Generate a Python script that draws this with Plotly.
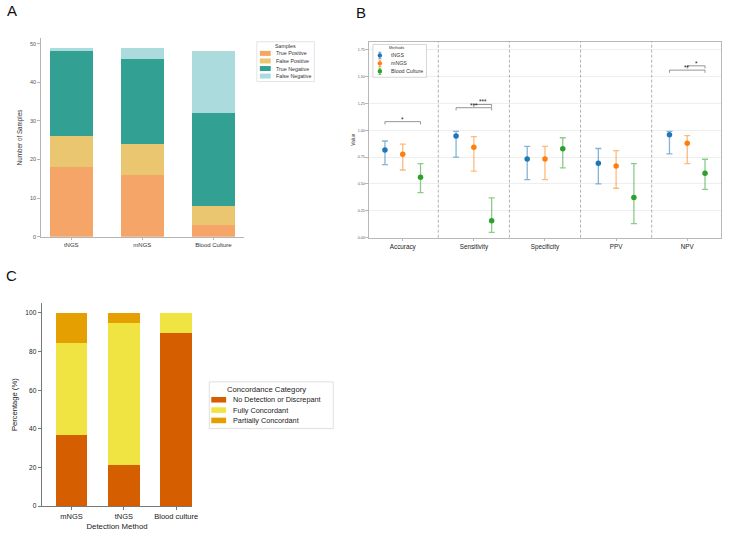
import plotly.graph_objects as go

W, H = 730, 535
FONT = "Liberation Sans, Arial, sans-serif"

# ---------------- Panel A data ----------------
a_methods = ["tNGS", "mNGS", "Blood Culture"]
a_true_pos = [18, 16, 3]
a_false_pos = [8, 8, 5]
a_true_neg = [22, 22, 24]
a_false_neg = [1, 3, 16]
a_labels = ["True Positive", "False Positive", "True Negative", "False Negative"]
a_colors = ["#F4A261", "#E9C46A", "#2A9D8F", "#A8DADC"]
a_yticks = [0, 10, 20, 30, 40, 50]

# ---------------- Panel B data ----------------
b_metrics = ["Accuracy", "Sensitivity", "Specificity", "PPV", "NPV"]
b_methods = ["tNGS", "mNGS", "Blood Culture"]
b_tngs = [0.816, 0.947, 0.733, 0.692, 0.957]
b_tngs_lo = [0.68, 0.75, 0.54, 0.50, 0.78]
b_tngs_hi = [0.90, 0.99, 0.85, 0.83, 0.99]
b_mngs = [0.776, 0.842, 0.733, 0.667, 0.880]
b_mngs_lo = [0.63, 0.62, 0.54, 0.46, 0.69]
b_mngs_hi = [0.87, 0.94, 0.85, 0.81, 0.95]
b_bc = [0.5625, 0.158, 0.828, 0.375, 0.600]
b_bc_lo = [0.42, 0.05, 0.65, 0.13, 0.45]
b_bc_hi = [0.69, 0.37, 0.93, 0.69, 0.73]
b_colors = ["#1f77b4", "#ff7f0e", "#2ca02c"]
b_yticks = [0.0, 0.25, 0.5, 0.75, 1.0, 1.25, 1.5, 1.75]
# significance brackets
b_sig_metric = ["Accuracy", "Sensitivity", "Sensitivity", "NPV", "NPV"]
b_sig_from = ["tNGS", "tNGS", "mNGS", "tNGS", "mNGS"]
b_sig_to = ["Blood Culture", "Blood Culture", "Blood Culture", "Blood Culture", "Blood Culture"]
b_sig_height = [1.08, 1.21, 1.24, 1.56, 1.60]
b_sig_label = ["*", "***", "***", "**", "*"]

# ---------------- Panel C data ----------------
c_methods = ["mNGS", "tNGS", "Blood culture"]
c_no_detect = [36.8, 21.1, 89.5]
c_full = [47.4, 73.7, 10.5]
c_partial = [15.8, 5.2, 0.0]
c_labels = ["No Detection or Discrepant", "Fully Concordant", "Partially Concordant"]
c_colors = ["#D55E00", "#F0E442", "#E69F00"]
c_yticks = [0, 20, 40, 60, 80, 100]


def px(x, y):
    return x / W, 1 - y / H


def dom_x(a, b):
    return [a / W, b / W]


def dom_y(top, bottom):
    return [1 - bottom / H, 1 - top / H]


def rgba(hexc, a):
    hexc = hexc.lstrip("#")
    r, g, b = int(hexc[0:2], 16), int(hexc[2:4], 16), int(hexc[4:6], 16)
    return f"rgba({r},{g},{b},{a})"


fig = go.Figure()
shapes = []
annos = []

# ================= Panel A =================
a_series = [a_true_pos, a_false_pos, a_true_neg, a_false_neg]
for lab, col, vals in zip(a_labels, a_colors, a_series):
    fig.add_trace(go.Bar(
        x=a_methods, y=vals, name=lab, marker=dict(color=col, line=dict(width=0)),
        opacity=0.96, width=0.6, xaxis="x", yaxis="y", showlegend=False,
    ))

# ================= Panel B =================
offsets = {"tNGS": -0.25, "mNGS": 0.0, "Blood Culture": 0.25}
b_vals = [b_tngs, b_mngs, b_bc]
b_los = [b_tngs_lo, b_mngs_lo, b_bc_lo]
b_his = [b_tngs_hi, b_mngs_hi, b_bc_hi]
for m, col, v, lo, hi in zip(b_methods, b_colors, b_vals, b_los, b_his):
    xs = [i + offsets[m] for i in range(len(b_metrics))]
    fig.add_trace(go.Scatter(
        x=xs, y=v, mode="markers", name=m,
        marker=dict(color=col, size=5.5),
        error_y=dict(type="data", symmetric=False,
                     array=[h - c for h, c in zip(hi, v)],
                     arrayminus=[c - l for c, l in zip(v, lo)],
                     color=rgba(col, 0.55), thickness=1.3, width=3),
        xaxis="x2", yaxis="y2", showlegend=False,
    ))

# separators
for i in range(len(b_metrics) - 1):
    shapes.append(dict(type="line", xref="x2", yref="y2 domain", x0=i + 0.5, x1=i + 0.5,
                       y0=0, y1=1, line=dict(color="#a8a8a8", width=0.9, dash="3px,2px")))

# significance brackets
for met, f, t, h, lab in zip(b_sig_metric, b_sig_from, b_sig_to, b_sig_height, b_sig_label):
    idx = b_metrics.index(met)
    x0 = idx + offsets[f]
    x1 = idx + offsets[t]
    d = 0.025
    shapes.append(dict(type="path", xref="x2", yref="y2",
                       path=f"M {x0},{h - d} L {x0},{h} L {x1},{h} L {x1},{h - d}",
                       line=dict(color="#8a8a8a", width=0.9)))
    annos.append(dict(xref="x2", yref="y2", x=(x0 + x1) / 2, y=h, text=lab, showarrow=False,
                      yanchor="bottom", yshift=-3, font=dict(size=6.5, color="#222", family=FONT)))

# ================= Panel C =================
c_series = [c_no_detect, c_full, c_partial]
for lab, col, vals in zip(c_labels, c_colors, c_series):
    fig.add_trace(go.Bar(
        x=c_methods, y=vals, name=lab, marker=dict(color=col, line=dict(width=0)),
        width=0.6, xaxis="x3", yaxis="y3", showlegend=False,
    ))

# ================= Manual legends =================
# Legend A
x0, y0, x1, y1 = px(259, 42)[0], px(259, 42)[1], px(317, 82)[0], px(317, 82)[1]
shapes.append(dict(type="rect", xref="paper", yref="paper", x0=x0, y0=y1, x1=x1, y1=y0,
                   line=dict(color="#dddddd", width=0.8), fillcolor="white"))
tx, ty = px(288, 46.5)
annos.append(dict(xref="paper", yref="paper", x=tx, y=ty, text="Samples", showarrow=False,
                  xanchor="center", yanchor="middle", font=dict(size=5.3, color="#333", family=FONT)))
for i, (lab, col) in enumerate(zip(a_labels, a_colors)):
    yc = 53.7 + i * 7.6
    sx0, sy0 = px(262, yc - 2.5)
    sx1, sy1 = px(273, yc + 2.5)
    shapes.append(dict(type="rect", xref="paper", yref="paper", x0=sx0, y0=sy1, x1=sx1, y1=sy0,
                       line=dict(width=0), fillcolor=col, opacity=0.96))
    lx, ly = px(276, yc)
    annos.append(dict(xref="paper", yref="paper", x=lx, y=ly, text=lab, showarrow=False,
                      xanchor="left", yanchor="middle", font=dict(size=5.3, color="#333", family=FONT)))

# Legend B
bx0, by0 = px(376, 44.7)
bx1, by1 = px(430, 77.7)
shapes.append(dict(type="rect", xref="paper", yref="paper", x0=bx0, y0=by1, x1=bx1, y1=by0,
                   line=dict(color="#cccccc", width=0.8), fillcolor="white"))
tx, ty = px(400, 48)
annos.append(dict(xref="paper", yref="paper", x=tx, y=ty, text="Methods", showarrow=False,
                  xanchor="center", yanchor="middle", font=dict(size=4, color="#333", family=FONT)))
for i, (lab, col) in enumerate(zip(b_methods, b_colors)):
    yc = 55.7 + i * 8.0
    mx = 383
    ex, ey0 = px(mx, yc - 3.2)
    _, ey1 = px(mx, yc + 3.2)
    shapes.append(dict(type="line", xref="paper", yref="paper", x0=ex, x1=ex, y0=ey0, y1=ey1,
                       line=dict(color=rgba(col, 0.6), width=1.2)))
    for yy in (yc - 3.2, yc + 3.2):
        cx0, cy = px(mx - 1.5, yy)
        cx1, _ = px(mx + 1.5, yy)
        shapes.append(dict(type="line", xref="paper", yref="paper", x0=cx0, x1=cx1, y0=cy, y1=cy,
                           line=dict(color=rgba(col, 0.6), width=1)))
    ccx0, ccy0 = px(mx - 2.2, yc - 2.2)
    ccx1, ccy1 = px(mx + 2.2, yc + 2.2)
    shapes.append(dict(type="circle", xref="paper", yref="paper", x0=ccx0, x1=ccx1, y0=ccy1, y1=ccy0,
                       line=dict(width=0), fillcolor=col))
    lx, ly = px(392, yc)
    annos.append(dict(xref="paper", yref="paper", x=lx, y=ly, text=lab, showarrow=False,
                      xanchor="left", yanchor="middle", font=dict(size=5.3, color="#333", family=FONT)))

# Legend C
cx0, cy0 = px(211, 384)
cx1, cy1 = px(336, 431)
shapes.append(dict(type="rect", xref="paper", yref="paper", x0=cx0, y0=cy1, x1=cx1, y1=cy0,
                   line=dict(color="#d8d8d8", width=0.8), fillcolor="white"))
tx, ty = px(269, 391.5)
annos.append(dict(xref="paper", yref="paper", x=tx, y=ty, text="Concordance Category", showarrow=False,
                  xanchor="center", yanchor="middle", font=dict(size=7.7, color="#222", family=FONT)))
for i, (lab, col) in enumerate(zip(c_labels, c_colors)):
    yc = 402 + i * 10.4
    sx0, sy0 = px(213, yc - 2.8)
    sx1, sy1 = px(228, yc + 2.8)
    shapes.append(dict(type="rect", xref="paper", yref="paper", x0=sx0, y0=sy1, x1=sx1, y1=sy0,
                       line=dict(width=0), fillcolor=col))
    lx, ly = px(233, yc)
    annos.append(dict(xref="paper", yref="paper", x=lx, y=ly, text=lab, showarrow=False,
                      xanchor="left", yanchor="middle", font=dict(size=7.3, color="#222", family=FONT)))

# Panel labels
for lab, (x, y) in zip(["A", "B", "C"], [(12, 11), (364, 13), (12, 277)]):
    lx, ly = px(x, y)
    annos.append(dict(xref="paper", yref="paper", x=lx, y=ly, text=lab, showarrow=False,
                      xanchor="center", yanchor="middle", font=dict(size=15, color="#111", family=FONT)))

axis_common = dict(showgrid=False, zeroline=False, ticks="outside", showline=True)

fig.update_layout(
    width=W, height=H, margin=dict(l=0, r=0, t=0, b=0),
    paper_bgcolor="white", plot_bgcolor="white",
    barmode="stack", showlegend=False,
    font=dict(family=FONT, color="#333"),
    # Panel A
    xaxis=dict(domain=dom_x(41, 246), range=[-0.43, 2.43], type="category", anchor="y",
               linecolor="#b5b5b5", linewidth=1, tickcolor="#b5b5b5", ticklen=2.5, tickwidth=0.8,
               tickfont=dict(size=6, color="#333"), **axis_common),
    yaxis=dict(domain=dom_y(38.4, 238), range=[0, 51.45], anchor="x", tickvals=a_yticks,
               linecolor="#b5b5b5", linewidth=1, tickcolor="#b5b5b5", ticklen=2.5, tickwidth=0.8,
               tickfont=dict(size=5.5, color="#555"),
               title=dict(text="Number of Samples", font=dict(size=6.3, color="#333"), standoff=6),
               **axis_common),
    # Panel B
    xaxis2=dict(domain=dom_x(372, 727), range=[-0.475, 4.475], anchor="y2",
                tickvals=list(range(len(b_metrics))), ticktext=b_metrics, mirror=True,
                linecolor="#b8b8b8", linewidth=1, tickcolor="#b8b8b8", ticklen=2.5, tickwidth=0.8,
                tickfont=dict(size=6.3, color="#222"), **axis_common),
    yaxis2=dict(domain=dom_y(42, 239), range=[0, 1.824], anchor="x2", tickvals=b_yticks,
                tickformat=".2f", mirror=True, linecolor="#b8b8b8", linewidth=1,
                tickcolor="#b8b8b8", ticklen=2.5, tickwidth=0.8,
                tickfont=dict(size=3.6, color="#555"),
                title=dict(text="Value", font=dict(size=4.8, color="#333"), standoff=2),
                showgrid=True, gridcolor="#eeeeee", gridwidth=0.8, zeroline=False,
                ticks="outside", showline=True),
    # Panel C
    xaxis3=dict(domain=dom_x(42, 194), range=[-0.57, 2.31], type="category", anchor="y3",
                linecolor="#777", linewidth=1, tickcolor="#777", ticklen=3, tickwidth=0.8,
                tickfont=dict(size=7.5, color="#222"),
                title=dict(text="Detection Method", font=dict(size=7.8, color="#222"), standoff=3),
                **axis_common),
    yaxis3=dict(domain=dom_y(305, 509), range=[0, 105], anchor="x3", tickvals=c_yticks,
                linecolor="#777", linewidth=1, tickcolor="#777", ticklen=3, tickwidth=0.8,
                tickfont=dict(size=6.6, color="#222"),
                title=dict(text="Percentage (%)", font=dict(size=7.6, color="#222"), standoff=6),
                **axis_common),
    shapes=shapes,
    annotations=annos,
)

fig.write_html("out.html")
